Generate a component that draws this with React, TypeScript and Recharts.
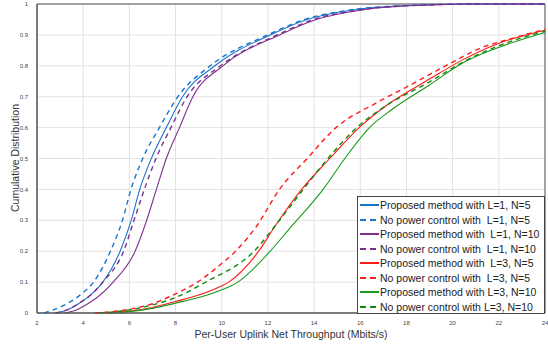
import React from "react";
import {
  LineChart,
  Line,
  XAxis,
  YAxis,
  CartesianGrid,
  ReferenceArea,
} from "recharts";

// CDF curves, [throughput, cumulative]
const propL1N5 = [
  [2.8, 0], [3.3, 0.01], [3.8, 0.03], [4.35, 0.06], [4.85, 0.1], [5.6, 0.2],
  [6.08, 0.3], [6.45, 0.4], [6.95, 0.5], [7.6, 0.6], [8.3, 0.7], [9.7, 0.8],
  [12.1, 0.9], [13.7, 0.95], [15.6, 0.98], [18, 0.995], [21, 1], [24, 1],
];
const npcL1N5 = [
  [2.3, 0], [2.7, 0.01], [3.3, 0.03], [3.9, 0.06], [4.45, 0.1], [5.18, 0.2],
  [5.7, 0.3], [6.07, 0.4], [6.58, 0.5], [7.3, 0.6], [8.1, 0.7], [9.5, 0.8],
  [12.0, 0.9], [13.6, 0.95], [15.5, 0.98], [18, 0.995], [21, 1], [24, 1],
];
const propL1N10 = [
  [3.2, 0], [3.7, 0.01], [4.2, 0.03], [4.6, 0.05], [5.3, 0.1], [6.25, 0.2],
  [6.75, 0.3], [7.17, 0.4], [7.6, 0.5], [8.17, 0.6], [8.75, 0.7], [10.05, 0.8],
  [12.5, 0.9], [14.1, 0.95], [16.0, 0.98], [18.3, 0.995], [21, 1], [24, 1],
];
const npcL1N10 = [
  [2.8, 0], [3.3, 0.01], [3.8, 0.03], [4.35, 0.06], [4.85, 0.1], [5.75, 0.2],
  [6.2, 0.3], [6.65, 0.4], [7.15, 0.5], [7.8, 0.6], [8.5, 0.7], [9.95, 0.8],
  [12.4, 0.9], [14.0, 0.95], [15.9, 0.98], [18.2, 0.995], [21, 1], [24, 1],
];
const propL3N5 = [
  [5, 0], [6, 0.006], [7, 0.018], [8, 0.037], [9, 0.058], [9.7, 0.078],
  [10.3, 0.1], [11.6, 0.2], [12.3, 0.28], [13.46, 0.4], [14.68, 0.5],
  [15.95, 0.6], [17.1, 0.67], [19.0, 0.757], [20.45, 0.82], [21.9, 0.87],
  [24, 0.915],
];
const npcL3N5 = [
  [4.5, 0], [6, 0.012], [7, 0.03], [8, 0.062], [8.95, 0.1], [10, 0.16],
  [10.6, 0.2], [11.5, 0.28], [12.5, 0.4], [13.7, 0.5], [14.95, 0.6],
  [16.7, 0.68], [18.1, 0.735], [19.7, 0.8], [21.2, 0.857], [22.6, 0.889],
  [24, 0.918],
];
const propL3N10 = [
  [5, 0], [6, 0.005], [7, 0.015], [8, 0.032], [9, 0.05], [9.9, 0.072],
  [10.7, 0.1], [12.1, 0.2], [12.9, 0.27], [14.39, 0.4], [15.33, 0.5],
  [16.4, 0.6], [17.4, 0.66], [19.0, 0.738], [20.45, 0.81], [21.9, 0.857],
  [24, 0.908],
];
const npcL3N10 = [
  [4.7, 0], [6, 0.01], [7, 0.026], [8, 0.05], [9.3, 0.1], [11.4, 0.2],
  [12.5, 0.3], [13.53, 0.4], [14.6, 0.5], [15.85, 0.6], [17.1, 0.67],
  [19.0, 0.748], [20.45, 0.812], [21.9, 0.862], [24, 0.912],
];

const xTicks = [2, 4, 6, 8, 10, 12, 14, 16, 18, 20, 22, 24];
const yTicks = [0, 0.1, 0.2, 0.3, 0.4, 0.5, 0.6, 0.7, 0.8, 0.9, 1];

const toPts = (a: number[][]) => a.map(([x, y]) => ({ x, y }));

const BLUE = "#1874cd";
const PURPLE = "#7e2f8e";
const RED = "#ff1a1a";
const GREEN = "#1a9a1a";

const series = [
  { name: "Proposed method with L=1, N=5", data: propL1N5, color: BLUE, dash: false },
  { name: "No power control with  L=1, N=5", data: npcL1N5, color: BLUE, dash: true },
  { name: "Proposed method with  L=1, N=10", data: propL1N10, color: PURPLE, dash: false },
  { name: "No power control with  L=1, N=10", data: npcL1N10, color: PURPLE, dash: true },
  { name: "Proposed method with  L=3, N=5", data: propL3N5, color: RED, dash: false },
  { name: "No power control with  L=3, N=5", data: npcL3N5, color: RED, dash: true },
  { name: "Proposed method with L=3, N=10", data: propL3N10, color: GREEN, dash: false },
  { name: "No power control with L=3, N=10", data: npcL3N10, color: "#0b8a0b", dash: true },
];

const tickStyle = { fontSize: 6, fill: "#444", fontFamily: "Liberation Sans, Arial" };

const LegendBox = () => (
  <div
    style={{
      position: "absolute",
      left: 357,
      top: 196,
      border: "1px solid #444",
      background: "#fff",
      width: 188,
      height: 118,
      fontFamily: "Liberation Sans, Arial, sans-serif",
      fontSize: 10.5,
      color: "#222",
      paddingTop: 1,
      boxSizing: "border-box",
      overflow: "hidden",
    }}
  >
    {series.map((s) => (
      <div
        key={s.name}
        style={{ display: "flex", alignItems: "center", height: 14.5, whiteSpace: "pre" }}
      >
        <svg width={21} height={6} style={{ marginLeft: 1, flexShrink: 0 }}>
          <line
            x1={1}
            y1={3}
            x2={20}
            y2={3}
            stroke={s.color}
            strokeWidth={2}
            strokeDasharray={s.dash ? "6 4" : undefined}
          />
        </svg>
        <span>{s.name}</span>
      </div>
    ))}
  </div>
);

export default function App() {
  return (
    <div style={{ position: "absolute", left: 0, top: 0, width: 548, height: 347, background: "#fff" }}>
      <LineChart
        width={548}
        height={347}
        margin={{ top: 4, right: 3, left: 0, bottom: 0 }}
      >
        <CartesianGrid stroke="#e2e2e2" strokeWidth={1} />
        <XAxis
          dataKey="x"
          type="number"
          domain={[2, 24]}
          ticks={xTicks}
          height={34}
          tickLine={false}
          axisLine={{ stroke: "#555" }}
          tick={tickStyle}
          tickMargin={2}
          label={{
            value: "Per-User Uplink Net Throughput (Mbits/s)",
            position: "insideBottom",
            offset: 9,
            style: { fontSize: 10.5, fill: "#333", fontFamily: "Liberation Sans, Arial" },
          }}
        />
        <YAxis
          type="number"
          domain={[0, 1]}
          ticks={yTicks}
          width={37}
          tickLine={false}
          axisLine={{ stroke: "#555" }}
          tick={tickStyle}
          tickMargin={3}
          label={{
            content: () => (
              <text
                x={16}
                y={158}
                transform="rotate(-90 16 158)"
                textAnchor="middle"
                dominantBaseline="middle"
                style={{ fontSize: 10.5, fill: "#333", fontFamily: "Liberation Sans, Arial" }}
              >
                Cumulative Distribution
              </text>
            ),
          }}
        />
        <ReferenceArea
          x1={2}
          x2={24}
          y1={0}
          y2={1}
          fill="none"
          stroke="#555"
          strokeWidth={1}
          ifOverflow="visible"
        />
        {series.map((s) => (
          <Line
            key={s.name}
            data={toPts(s.data)}
            dataKey="y"
            type="monotone"
            stroke={s.color}
            strokeWidth={s.dash ? 1.4 : 1.1}
            strokeDasharray={s.dash ? "5 4" : undefined}
            dot={false}
            isAnimationActive={false}
            name={s.name}
          />
        ))}
      </LineChart>
      <LegendBox />
    </div>
  );
}
